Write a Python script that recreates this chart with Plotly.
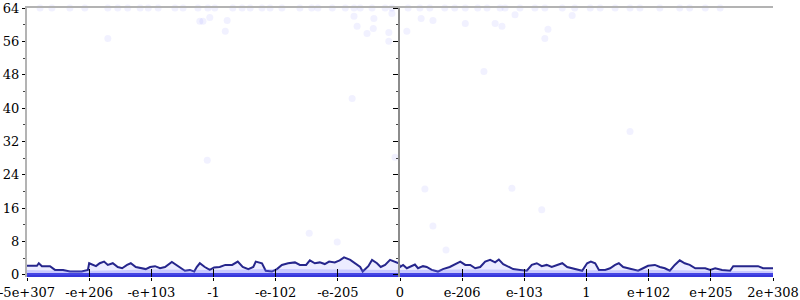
import plotly.graph_objects as go

# ---- data ----
tick_pos = [-6, -5, -4, -3, -2, -1, 0, 1, 2, 3, 4, 5, 6]
tick_text = ["-5e+307", "-e+206", "-e+103", "-1", "-e-102", "-e-205", "0",
             "e-206", "e-103", "1", "e+102", "e+205", "2e+308"]
y_major = [0, 8, 16, 24, 32, 40, 48, 56, 64]
y_minor = [4, 12, 20, 28, 36, 44, 52, 60]

# average error (bits) along the input range
avg_x = [-6.00, -5.84, -5.81, -5.76, -5.63, -5.55, -5.42, -5.31, -5.12, -5.02, -5.00,
         -4.95, -4.89, -4.83, -4.76, -4.70, -4.62, -4.54, -4.47, -4.39, -4.33, -4.25,
         -4.17, -4.09, -4.02, -3.94, -3.86, -3.78, -3.67, -3.60, -3.54, -3.46, -3.38,
         -3.31, -3.27, -3.22, -3.14, -3.06, -2.99, -2.90, -2.81, -2.70, -2.61, -2.53,
         -2.44, -2.36, -2.32, -2.22, -2.16, -2.06, -1.98, -1.90, -1.80, -1.69, -1.61,
         -1.51, -1.45, -1.37, -1.29, -1.21, -1.14, -1.05, -0.97, -0.90, -0.80, -0.72,
         -0.64, -0.60, -0.51, -0.45, -0.37, -0.31, -0.24, -0.16, -0.08, -0.02, 0.00,
         0.05, 0.11, 0.18, 0.24, 0.29, 0.37, 0.43, 0.51, 0.61, 0.69, 0.80, 0.88, 0.97,
         1.05, 1.13, 1.21, 1.29, 1.37, 1.45, 1.53, 1.59, 1.66, 1.74, 1.82, 1.93, 2.04,
         2.12, 2.20, 2.28, 2.36, 2.44, 2.53, 2.61, 2.69, 2.77, 2.85, 2.93, 3.01, 3.07,
         3.14, 3.20, 3.30, 3.38, 3.46, 3.52, 3.59, 3.67, 3.75, 3.83, 3.91, 3.99, 4.10,
         4.18, 4.26, 4.34, 4.42, 4.50, 4.58, 4.66, 4.75, 4.91, 4.99, 5.07, 5.18, 5.31,
         5.36, 5.47, 5.76, 5.84, 6.00]
avg_y = [2.2, 2.2, 2.8, 2.1, 2.1, 1.2, 1.2, 0.8, 0.8, 1.2, 2.8,
         2.4, 2.1, 2.8, 3.2, 2.4, 2.8, 1.9, 1.6, 2.4, 2.8, 1.9,
         1.6, 1.4, 1.9, 2.1, 1.6, 1.9, 3.1, 2.4, 1.9, 1.0, 1.2,
         0.8, 1.9, 2.8, 1.9, 1.2, 1.8, 1.9, 2.4, 2.4, 3.2, 1.9,
         1.4, 1.9, 3.2, 2.8, 1.0, 0.8, 1.4, 2.4, 2.8, 3.0, 2.4,
         2.4, 3.5, 2.8, 3.0, 2.6, 3.2, 3.0, 3.5, 4.2, 3.6, 2.8,
         1.9, 0.8, 2.1, 3.6, 2.8, 1.9, 2.4, 3.6, 3.2, 2.8, 1.9,
         2.4, 1.6, 2.1, 2.5, 1.6, 2.1, 1.9, 1.2, 0.8, 1.4, 1.9, 2.6, 3.2,
         2.4, 2.4, 1.6, 1.9, 3.2, 3.6, 3.0, 3.7, 2.6, 1.9, 1.4, 1.2, 1.0,
         2.4, 2.8, 2.1, 2.4, 1.9, 2.4, 2.8, 1.9, 1.6, 1.2, 1.0, 2.8, 3.2,
         2.8, 1.2, 1.2, 1.6, 2.4, 2.8, 1.9, 1.6, 1.2, 1.0, 1.6, 2.2, 2.4,
         1.9, 1.6, 1.0, 2.4, 3.5, 2.8, 2.4, 1.6, 1.6, 1.2, 1.6, 1.2, 1.0,
         2.1, 2.1, 2.1, 1.6, 1.6]

# dense low-error points (band near zero)
band_x = [-6, -5, -4, -3, -2, -1, 0, 1, 2, 3, 4, 5, 6]
band_y = [1.2, 1.0, 1.3, 1.2, 1.4, 1.3, 1.2, 1.3, 1.2, 1.1, 1.2, 1.0, 0.9]

# points with zero error
zero_x = [-6, 6]
zero_y = [0, 0]

# points with maximal error (64 bits)
top_x = [-5.79, -5.60, -5.31, -5.07, -4.70, -4.54, -4.38, -4.18, -4.05, -3.89, -3.62,
         -3.49, -3.25, -3.09, -2.98, -2.69, -2.54, -2.41, -2.22, -2.09, -1.90, -1.61,
         -1.42, -1.32, -1.09, -0.88, -0.74, -0.64, -0.45, -0.24, -0.13, 0.13, 0.32,
         0.48, 0.72, 0.88, 1.05, 1.25, 1.40, 1.61, 1.69, 1.93, 2.17, 2.33, 2.61, 2.81,
         3.06, 3.22, 3.46, 3.70, 3.86, 4.18, 4.50, 4.66, 4.91, 5.15]
top_y = [64] * len(top_x)

# scattered individual points
mid_x = [-4.70, -3.22, -3.17, -3.06, -2.81, -2.78, -0.74, -0.69, -0.53, -0.43, -0.42,
         -0.18, -0.13, -0.18, 0.11, 0.34, 0.53, 1.05, 1.53, 1.64, 1.85, 2.33, 2.38,
         2.77, -0.77, -3.10, -0.08, 0.40, 0.53, 0.74, 2.28, -1.46, -1.01, 1.35, 3.70,
         1.80]
mid_y = [56.7, 60.8, 60.8, 61.7, 58.4, 61.0, 62.0, 59.6, 57.9, 59.1, 61.5,
         58.1, 62.7, 56.0, 58.4, 61.5, 61.0, 60.3, 60.3, 59.6, 62.4, 56.7, 58.9,
         62.2, 42.3, 27.5, 28.2, 20.6, 11.7, 6.0, 15.6, 10.0, 7.9, 48.8, 34.4,
         20.8]

# ---- figure ----
FONT = dict(family="DejaVu Serif", size=13, color="black")
GRAY = "#b3b3b3"
YR = [-0.5, 64]
dot = dict(size=7, color="rgba(80,80,255,0.08)", line=dict(width=0))

# two panels: negative half and positive half
# (main x, inside-tick x, top-frame x, y, filter)
panels = [("x", "x3", "x5", "y", lambda v: v <= 0),
          ("x2", "x4", "x6", "y2", lambda v: v > 0)]

fig = go.Figure()
for xa, xin, xtop, ya, keep in panels:
    fig.add_trace(go.Scatter(x=band_x, y=band_y, mode="lines", fill="tozeroy",
                             line=dict(width=0, shape="spline"),
                             fillcolor="rgba(110,110,255,0.28)", xaxis=xin, yaxis=ya))
    fig.add_trace(go.Scatter(x=avg_x, y=avg_y, mode="lines", fill="tozeroy",
                             fillcolor="rgba(150,150,255,0.18)",
                             line=dict(color="rgb(38,38,140)", width=2),
                             xaxis=xa, yaxis=ya))
    fig.add_trace(go.Scatter(x=zero_x, y=zero_y, mode="lines",
                             line=dict(color="rgb(55,55,220)", width=4),
                             xaxis=xa, yaxis=ya))
    tx = [v for v in top_x if keep(v)]
    ty = [w for v, w in zip(top_x, top_y) if keep(v)]
    fig.add_trace(go.Scatter(x=tx, y=ty, mode="markers", marker=dot,
                             cliponaxis=False, xaxis=xtop, yaxis=ya))
    mx = [v for v in mid_x if keep(v)]
    my = [w for v, w in zip(mid_x, mid_y) if keep(v)]
    fig.add_trace(go.Scatter(x=mx, y=my, mode="markers", marker=dot,
                             xaxis=xa, yaxis=ya))

common = dict(showgrid=False, zeroline=False, tickcolor="black", tickwidth=1)


def yax(**kw):
    d = dict(range=YR, tickmode="array", tickvals=y_major, showticklabels=False,
             showline=False, **common)
    d.update(kw)
    return d


def minor(kind, ln):
    return dict(tickmode="array", tickvals=y_minor, ticks=kind, ticklen=ln,
                tickcolor="#444")


left_vals = [v for v in tick_pos if v <= 0]
left_text = [t for v, t in zip(tick_pos, tick_text) if v <= 0]
right_vals = [v for v in tick_pos if v > 0]
right_text = [t for v, t in zip(tick_pos, tick_text) if v > 0]


def xmain(rng, dom, vals, texts, anchor):
    return dict(range=rng, domain=dom, anchor=anchor, tickmode="array",
                tickvals=vals, ticktext=texts, ticks="outside", ticklen=3,
                showline=False, tickfont=FONT, automargin=False,
                ticklabeloverflow="allow", **common)


def xinside(rng, over, anchor, vals):
    return dict(range=rng, overlaying=over, anchor=anchor, side="bottom",
                tickmode="array", tickvals=vals, ticks="inside", ticklen=8,
                showticklabels=False, showline=False, **common)


def xtopline(rng, over, anchor):
    return dict(range=rng, overlaying=over, anchor=anchor, side="top", ticks="",
                showticklabels=False, showline=True, linecolor=GRAY, linewidth=2,
                showgrid=False, zeroline=False)


fig.update_layout(
    width=800, height=300,
    margin=dict(l=27, r=27, t=8, b=23, pad=0),
    paper_bgcolor="white", plot_bgcolor="white",
    showlegend=False,
    xaxis=xmain([-6, 0], [0, 0.5], left_vals, left_text, "y"),
    xaxis2=xmain([0, 6], [0.5, 1], right_vals, right_text, "y2"),
    xaxis3=xinside([-6, 0], "x", "y", left_vals),
    xaxis4=xinside([0, 6], "x2", "y2", right_vals),
    xaxis5=xtopline([-6, 0], "x", "y"),
    xaxis6=xtopline([0, 6], "x2", "y2"),
    # left edge
    yaxis=yax(side="left", anchor="x", showline=True, linecolor=GRAY, linewidth=2,
              ticks="outside", ticklen=3, showticklabels=True, tickfont=FONT,
              automargin=False, minor=minor("outside", 2)),
    yaxis3=yax(overlaying="y", side="left", anchor="x", ticks="inside", ticklen=6,
               minor=minor("inside", 3)),
    # centre (x = 0)
    yaxis4=yax(overlaying="y", side="right", anchor="x", showline=True,
               linecolor="#8c8c8c", linewidth=2, ticks="outside", ticklen=6,
               minor=minor("outside", 3)),
    yaxis2=yax(side="left", anchor="x2", showline=True, linecolor="#8c8c8c",
               linewidth=2, ticks="outside", ticklen=5, minor=minor("outside", 2)),
    # right edge
    yaxis5=yax(overlaying="y2", side="right", anchor="x2", showline=True,
               linecolor=GRAY, linewidth=2, ticks="outside", ticklen=7,
               minor=minor("outside", 4)),
    yaxis6=yax(overlaying="y2", side="right", anchor="x2", ticks="inside", ticklen=5,
               minor=minor("inside", 2)),
)

fig.write_html("out.html")
